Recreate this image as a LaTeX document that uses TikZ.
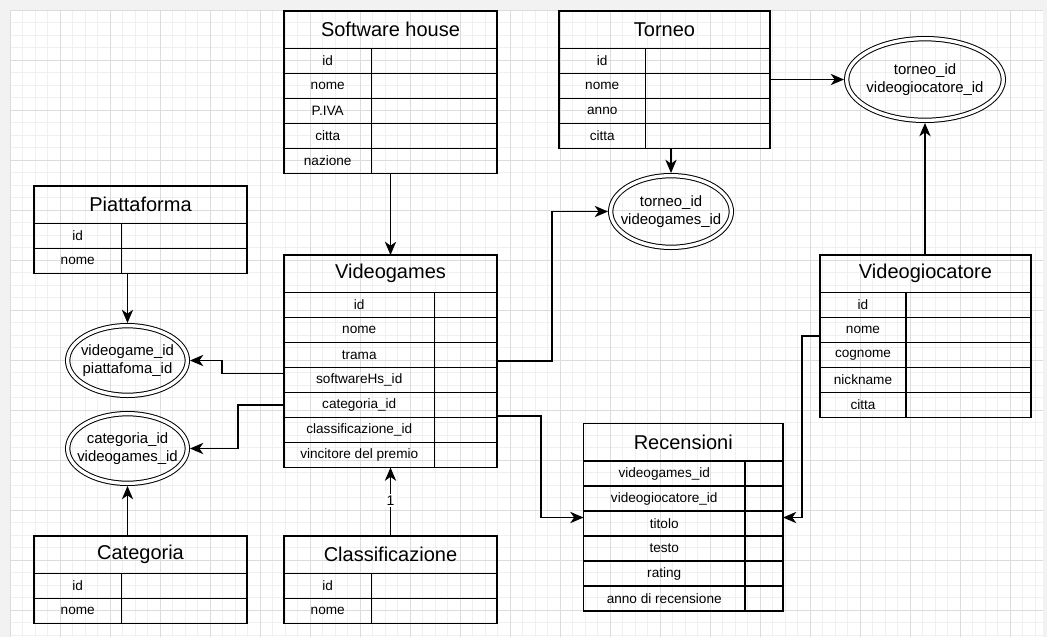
\documentclass[tikz,border=0pt]{standalone}
\usepackage{fontspec}
\setmainfont{Liberation Sans}
\usetikzlibrary{arrows.meta,calc,shapes.geometric}
\definecolor{outbg}{HTML}{F2F2F2}
\definecolor{gminor}{HTML}{F0F0F0}
\definecolor{gmajor}{HTML}{DCDCDC}
\tikzset{
 tline/.style={draw=black, line width=1pt},
 ttl/.style={tline, inner sep=0pt, outer sep=0pt, minimum height=28.125pt, font=\fontsize{15}{18}\selectfont},
 cell/.style={tline, inner sep=0pt, outer sep=0pt, minimum height=18.75pt, font=\fontsize{10.2}{12}\selectfont},
 whole/.style={inner sep=0pt, outer sep=0pt},
 dell/.style={ellipse, draw=black, line width=0.75pt, double=white, double distance=2.5pt, inner sep=0pt, outer sep=2pt},
 etext/.style={align=center, inner sep=0pt, font=\fontsize{11.2}{13.5}\selectfont},
 arr/.style={draw=black, line width=1pt, -{Stealth[length=10pt,width=8.5pt,inset=3pt]}},
 gmin/.style={draw=gminor, line width=0.6pt},
 gmaj/.style={draw=gmajor, line width=0.6pt},
}
\newcommand\ertable[7]{%
 \pgfmathsetmacro\ertw{(#4-#2)*0.75}%
 \pgfmathsetmacro\erlw{(#5-#2)*0.75}%
 \pgfmathsetmacro\errw{(#4-#5)*0.75}%
 \node[ttl, minimum width=\ertw pt, anchor=north west] (#1-t) at (#2,#3) {#6};
 \foreach \txt [count=\i] in {#7} {
   \node[cell, minimum width=\erlw pt, anchor=north west] (#1-\i) at ({#2},{#3+37.5+25*(\i-1)}) {\txt};
   \node[cell, minimum width=\errw pt, anchor=north west] (#1-r\i) at ({#5},{#3+37.5+25*(\i-1)}) {};
   \xdef\ernrows{\i}
 }
 \pgfmathsetmacro\erth{(37.5+25*\ernrows)*0.75}%
 \node[whole, minimum width=\ertw pt, minimum height=\erth pt, anchor=north west] (#1) at (#2,#3) {};
}
\begin{document}
\begin{tikzpicture}[x=0.75pt,y=-0.75pt]
\useasboundingbox (0,0) rectangle (1047,637);
\fill[outbg] (0,0) rectangle (1047,637);
\fill[white] (9.5,10) rectangle (1043,637);
\foreach \x in {10,22.5,...,1040} \draw[gmin] (\x,10) -- (\x,637);
\foreach \y in {10,22.5,...,636} \draw[gmin] (9.5,\y) -- (1043,\y);
\foreach \x in {10,60,...,1010} \draw[gmaj] (\x,10) -- (\x,637);
\foreach \y in {10,60,...,610} \draw[gmaj] (9.5,\y) -- (1043,\y);

\ertable{sh}{284}{11}{497}{371.5}{Software house}{id,nome,P.IVA,citta,nazione}
\ertable{pf}{34}{186}{247}{121.5}{Piattaforma}{id,nome}
\ertable{vg}{284}{255}{497}{434.5}{Videogames}{id,nome,trama,softwareHs\_id,categoria\_id,classificazione\_id,vincitore del premio}
\ertable{tor}{559}{11}{770}{645.5}{Torneo}{id,nome,anno,citta}
\ertable{vgc}{820}{255}{1031}{906}{Videogiocatore}{id,nome,cognome,nickname,citta}
\ertable{rc}{583.5}{423.5}{783}{745}{Recensioni}{videogames\_id,videogiocatore\_id,titolo,testo,rating,anno di recensione}
\ertable{ca}{34}{536}{247}{121.5}{Categoria}{id,nome}
\ertable{cl}{284}{536}{497}{371.5}{Classificazione}{id,nome}

\node[dell, minimum width=117.5pt, minimum height=61.25pt] (e1) at (925,79.5) {};
\node[etext] (e1t) at (e1) {torneo\_id\\videogiocatore\_id};
\node[dell, minimum width=90.5pt, minimum height=53.75pt] (e2) at (671,211.5) {};
\node[etext] (e2t) at (e2) {torneo\_id\\videogames\_id};
\node[dell, minimum width=89.75pt, minimum height=52.25pt] (e3) at (127.5,360.5) {};
\node[etext] (e3t) at (e3) {videogame\_id\\piattafoma\_id};
\node[dell, minimum width=89.75pt, minimum height=52.25pt] (e4) at (127.5,448.5) {};
\node[etext] (e4t) at (e4) {categoria\_id\\videogames\_id};

\draw[arr] (sh.south) -- (vg.north);
\draw[arr] (e3.north |- pf.south) -- (e3.north);
\draw[arr] ($(vg-4.west)+(0,-6.5)$) -- ++(-62,0) |- (e3.east);
\draw[arr] (vg-5.west) -- ++(-46,0) |- (e4.east);
\draw[arr] (e4.south |- ca.north) -- (e4.south);
\draw[arr] (cl.north) -- node[pos=0.52, fill=white, inner sep=1pt, font=\fontsize{10.5}{12}\selectfont] (one) {1} (vg.south);
\draw[arr] ($(vg-r3.east)+(0,6)$) -- ++(55,0) |- (e2.west);
\draw[arr] ($(vg-r6.north east)+(0,-1.5)$) -- ++(44,0) |- ($(rc-3.west)+(0,-6)$);
\draw[arr] ($(vgc-2.west)+(0,6)$) -- ++(-18,0) |- ($(rc-r3.east)+(0,-6)$);
\draw[arr] (e1.west -| tor.east) -- (e1.west);
\draw[arr] (e1.south |- vgc.north) -- (e1.south);
\draw[arr] (e2.north |- tor.south) -- (e2.north);
\end{tikzpicture}
\end{document}
